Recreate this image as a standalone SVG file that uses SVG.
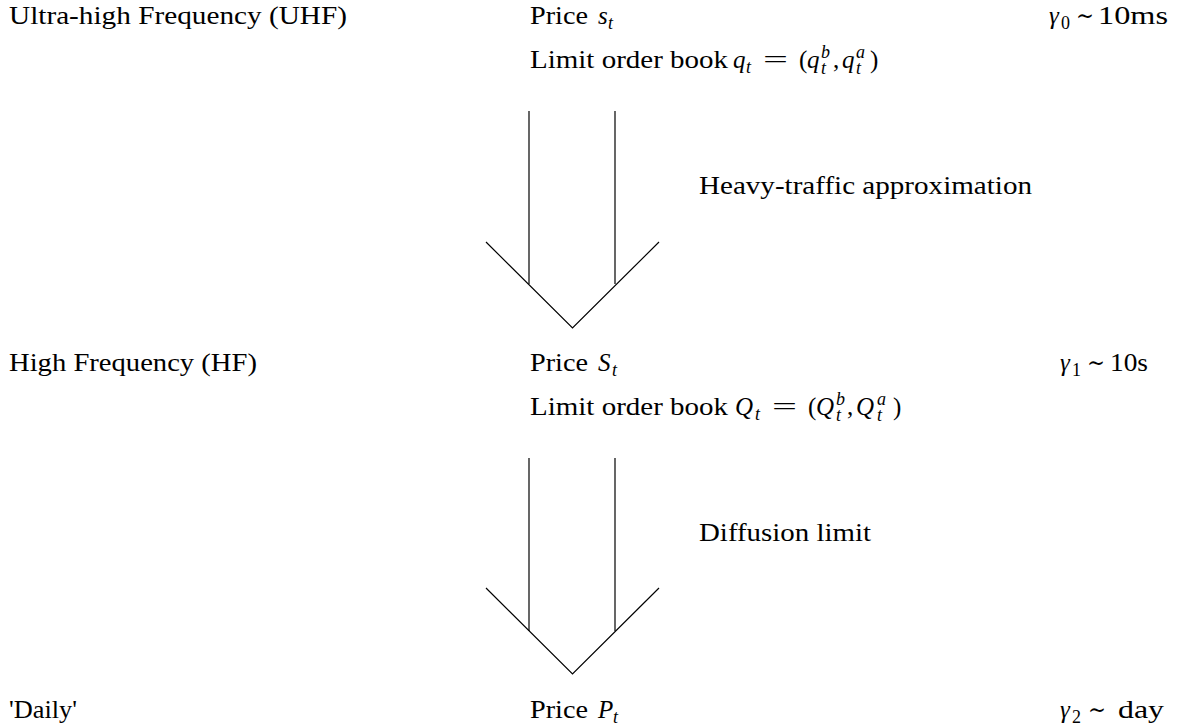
<svg xmlns="http://www.w3.org/2000/svg" width="1177" height="727" viewBox="0 0 1177 727">
<style>
text{font-family:"Liberation Serif","DejaVu Serif",serif;font-size:25px;fill:#000}
.i{font-style:italic}
.s{font-size:18px}
.arrow line, .arrow polyline{stroke:#000;stroke-width:1.2;fill:none}
</style>
<rect width="1177" height="727" fill="#fff"/>
<g id="row-uhf">
<text x="9" y="24" textLength="338" lengthAdjust="spacingAndGlyphs">Ultra-high Frequency (UHF)</text>
<g id="uhf-price">
<text x="530" y="24" textLength="58" lengthAdjust="spacingAndGlyphs">Price</text>
<text class="i" x="598" y="24">s</text>
<text class="i s" x="608" y="29">t</text>
</g>
<g id="uhf-lob">
<text x="530" y="68" textLength="198" lengthAdjust="spacingAndGlyphs">Limit order book</text>
<text class="i" x="733" y="68">q</text>
<text class="i s" x="746" y="73">t</text>
<text x="763" y="68" textLength="25" lengthAdjust="spacingAndGlyphs">=</text>
<text x="799" y="68">(</text>
<text class="i" x="807" y="68">q</text>
<text class="i s" x="821" y="58">b</text>
<text class="i s" x="821" y="74">t</text>
<text x="833" y="68">,</text>
<text class="i" x="842" y="68">q</text>
<text class="i s" x="856" y="58">a</text>
<text class="i s" x="856" y="74">t</text>
<text x="870" y="68">)</text>
</g>
<g id="uhf-scale">
<text class="i" x="1049" y="24">γ</text>
<text class="s" x="1061" y="29">0</text>
<text x="1076" y="24" textLength="18" lengthAdjust="spacingAndGlyphs">∼</text>
<text x="1098" y="24" textLength="70" lengthAdjust="spacingAndGlyphs">10ms</text>
</g>
</g>
<g id="row-hf">
<text x="9" y="371" textLength="248" lengthAdjust="spacingAndGlyphs">High Frequency (HF)</text>
<g id="hf-price">
<text x="530" y="371" textLength="58" lengthAdjust="spacingAndGlyphs">Price</text>
<text class="i" x="598" y="371">S</text>
<text class="i s" x="612" y="376">t</text>
</g>
<g id="hf-lob">
<text x="530" y="415" textLength="198" lengthAdjust="spacingAndGlyphs">Limit order book</text>
<text class="i" x="735" y="415">Q</text>
<text class="i s" x="755" y="420">t</text>
<text x="772" y="415" textLength="25" lengthAdjust="spacingAndGlyphs">=</text>
<text x="808" y="415">(</text>
<text class="i" x="816" y="415">Q</text>
<text class="i s" x="836" y="405">b</text>
<text class="i s" x="836" y="421">t</text>
<text x="847" y="415">,</text>
<text class="i" x="856" y="415">Q</text>
<text class="i s" x="877" y="405">a</text>
<text class="i s" x="877" y="421">t</text>
<text x="893" y="415">)</text>
</g>
<g id="hf-scale">
<text class="i" x="1060" y="371">γ</text>
<text class="s" x="1072" y="376">1</text>
<text x="1087" y="371" textLength="18" lengthAdjust="spacingAndGlyphs">∼</text>
<text x="1110" y="371" textLength="38" lengthAdjust="spacingAndGlyphs">10s</text>
</g>
</g>
<g id="row-daily">
<text x="9" y="718" textLength="68" lengthAdjust="spacingAndGlyphs">'Daily'</text>
<g id="daily-price">
<text x="530" y="718" textLength="58" lengthAdjust="spacingAndGlyphs">Price</text>
<text class="i" x="598" y="718">P</text>
<text class="i s" x="613" y="723">t</text>
</g>
<g id="daily-scale">
<text class="i" x="1060" y="718">γ</text>
<text class="s" x="1072" y="723">2</text>
<text x="1088" y="718" textLength="18" lengthAdjust="spacingAndGlyphs">∼</text>
<text x="1118" y="718" textLength="46" lengthAdjust="spacingAndGlyphs">day</text>
</g>
</g>
<g id="connectors" class="arrow">
<g id="arrow-1">
<line x1="529" y1="111" x2="529" y2="284"/>
<line x1="615" y1="111" x2="615" y2="284"/>
<polyline points="486,242 572.5,328 659,242"/>
<text x="699" y="194" textLength="333" lengthAdjust="spacingAndGlyphs">Heavy-traffic approximation</text>
</g>
<g id="arrow-2">
<line x1="529" y1="458" x2="529" y2="631"/>
<line x1="615" y1="458" x2="615" y2="631"/>
<polyline points="486,588 572.5,674 659,588"/>
<text x="699" y="541" textLength="172" lengthAdjust="spacingAndGlyphs">Diffusion limit</text>
</g>
</g>
</svg>
